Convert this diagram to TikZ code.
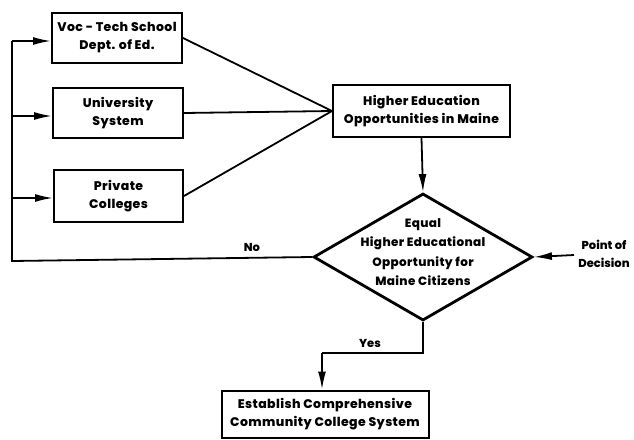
\documentclass[tikz,border=0pt]{standalone}
\usepackage{fontspec}
\setmainfont{Poppins}[BoldFont={Poppins ExtraBold}]
\usetikzlibrary{shapes.geometric,arrows.meta}
\begin{document}
\begin{tikzpicture}[x=1pt,y=-1pt,
  txt/.style={font=\bfseries\fontsize{11.5}{17.5}\selectfont, align=center},
  btxt/.style={font=\bfseries\fontsize{12.5}{18}\selectfont\addfontfeature{LetterSpace=3}, align=center},
  box/.style={btxt, draw, line width=2pt, inner sep=0pt},
  conn/.style={line width=1.8pt},
  arr/.style={conn, -{Latex[length=18pt,width=8pt]}}]
\useasboundingbox[fill=white] (0,0) rectangle (634,439);
\node[box, minimum width=130pt, minimum height=50pt] (voc) at (117,38) {Voc - Tech School\\Dept. of Ed.};
\node[box, minimum width=130pt, minimum height=50pt] (uni) at (118,113) {University\\System};
\node[box, minimum width=129pt, minimum height=52pt] (priv) at (118.5,196) {Private\\Colleges};
\node[box, minimum width=177pt, minimum height=52pt] (hed) at (421.5,111) {Higher Education\\Opportunities in Maine};
\node[draw, diamond, line width=2.8pt, minimum width=219pt, minimum height=127pt, aspect=1.72, inner sep=0pt] (dia) at (423,257) {};
\node[btxt, font=\bfseries\fontsize{12}{19.5}\selectfont\addfontfeature{LetterSpace=3}] (diat) at (423,252) {Equal\\Higher Educational\\Opportunity for\\Maine Citizens};
\node[box, minimum width=207pt, minimum height=47pt] (est) at (325,414) {Establish Comprehensive\\Community College System};
\node[txt] (pod) at (604,254) {Point of\\Decision};
\node[txt] (no) at (252,247) {No};
\node[txt] (yes) at (370,343) {Yes};
\coordinate (bl) at (12,261);
\coordinate (ctop) at (12,41);
\coordinate (cu) at (12,116);
\coordinate (cp) at (12,198);
\coordinate (yb) at (423,353);
\coordinate (yl) at (322,353);
\coordinate (pe) at (574,255);
\draw[conn] (dia.west) -- (bl) -- (ctop);
\draw[arr] (ctop) -- (voc.west |- ctop);
\draw[arr] (cu) -- (uni.west |- cu);
\draw[arr] (cp) -- (priv.west |- cp);
\draw[conn] (voc.east) -- (hed.west);
\draw[conn] (uni.east) -- (hed.west);
\draw[conn] (priv.east) -- (hed.west);
\draw[arr] (hed.south) -- (dia.north);
\draw[conn] (dia.south) -- (yb) -- (yl);
\draw[arr] (yl) -- (est.north -| yl);
\draw[arr] (pe) -- (dia.east);
\end{tikzpicture}
\end{document}
